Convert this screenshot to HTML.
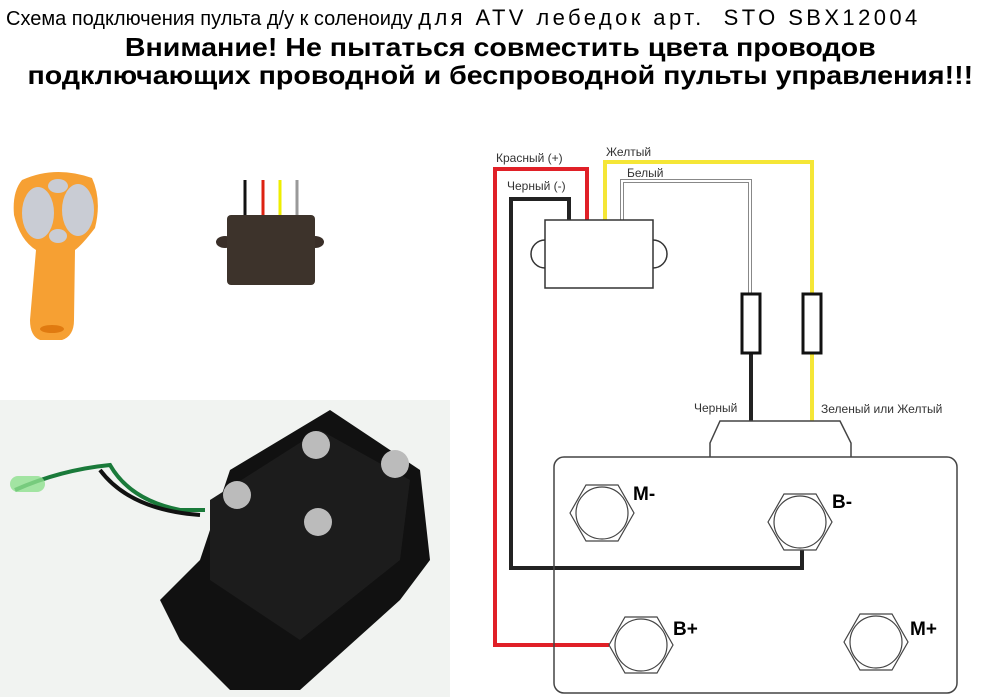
<!DOCTYPE html>
<html><head><meta charset="utf-8"><style>
body{margin:0;width:1000px;height:697px;background:#fff;overflow:hidden;position:relative;font-family:"Liberation Sans",sans-serif}
.t{position:absolute;white-space:nowrap;color:#000}
</style></head><body>
<div class="t" style="left:6px;top:5px;font-size:20px">Схема подключения пульта д/у к соленоиду <span style="font-size:22px;letter-spacing:3.4px">для ATV лебедок арт.&nbsp; STO SBX12004</span></div>
<div class="t" style="left:0;width:1000px;text-align:center;top:33px;font-size:26px;font-weight:bold;line-height:28px;transform:scaleX(1.1);transform-origin:497px 0">Внимание! Не пытаться совместить цвета проводов<br>подключающих проводной и беспроводной пульты управления!!!</div>

<svg width="1000" height="697" style="position:absolute;left:0;top:0" font-family="Liberation Sans, sans-serif">
<g>
<path d="M22 180 Q55 165 92 178 Q102 200 95 228 Q82 245 75 250 L74 320 Q74 336 62 340 L40 340 Q30 336 30 320 L36 250 Q20 240 14 215 Q12 192 22 180Z" fill="#f6a033"/>
<ellipse cx="38" cy="213" rx="16" ry="26" fill="#c9ccd4"/>
<ellipse cx="78" cy="210" rx="16" ry="26" fill="#c9ccd4"/>
<ellipse cx="58" cy="186" rx="10" ry="7" fill="#c9ccd4"/>
<ellipse cx="58" cy="236" rx="9" ry="7" fill="#c9ccd4"/>
<ellipse cx="52" cy="329" rx="12" ry="4" fill="#e07a10"/>
</g>
<g>
<line x1="245" y1="180" x2="245" y2="215" stroke="#111" stroke-width="3"/>
<line x1="263" y1="180" x2="263" y2="215" stroke="#d21" stroke-width="3"/>
<line x1="280" y1="180" x2="280" y2="215" stroke="#ee0" stroke-width="3"/>
<line x1="297" y1="180" x2="297" y2="215" stroke="#999" stroke-width="3"/>
<ellipse cx="225" cy="242" rx="9" ry="6" fill="#3a2f28"/>
<ellipse cx="315" cy="242" rx="9" ry="6" fill="#3a2f28"/>
<rect x="227" y="215" width="88" height="70" rx="4" fill="#3d332b"/>
</g>
<rect x="0" y="400" width="450" height="297" fill="#f1f3f1"/>
<g>
<path d="M160 600 L200 560 L230 470 L330 410 L420 470 L430 560 L400 600 L300 690 L230 690 L180 640Z" fill="#111"/>
<path d="M210 500 L320 430 L410 480 L400 560 L300 640 L210 580Z" fill="#1c1c1c"/>
<circle cx="237" cy="495" r="14" fill="#bbb"/><circle cx="316" cy="445" r="14" fill="#bbb"/>
<circle cx="395" cy="464" r="14" fill="#bbb"/><circle cx="318" cy="522" r="14" fill="#bbb"/>
<path d="M15 490 Q60 470 110 465 Q130 500 180 510 L205 510" stroke="#1a7a3a" stroke-width="4" fill="none"/>
<path d="M100 470 Q130 510 200 515" stroke="#111" stroke-width="4" fill="none"/>
<rect x="10" y="476" width="35" height="16" rx="8" fill="#8fe08f" opacity="0.8"/>
</g>

<g fill="none">
<polyline points="609,645 495,645 495,169 587,169 587,220" stroke="#e02027" stroke-width="4"/>
<polyline points="802,550 802,568 511,568 511,199 569,199 569,220" stroke="#222" stroke-width="4"/>
<polyline points="605,220 605,162 812,162 812,293" stroke="#f5e636" stroke-width="4"/>
<polyline points="812,353 812,421" stroke="#f5e636" stroke-width="4"/>
<polyline points="622,220 622,181 750,181 750,293" stroke="#888" stroke-width="4"/>
<polyline points="622,220 622,181 750,181 750,293" stroke="#fff" stroke-width="2"/>
<line x1="751" y1="353" x2="751" y2="421" stroke="#222" stroke-width="4"/>
<rect x="742" y="294" width="18" height="59" stroke="#111" stroke-width="3" fill="#fff"/>
<rect x="803" y="294" width="18" height="59" stroke="#111" stroke-width="3" fill="#fff"/>
<path d="M545 240 A14 14 0 0 0 545 268" stroke="#333" stroke-width="1.5"/>
<path d="M653 240 A14 14 0 0 1 653 268" stroke="#333" stroke-width="1.5"/>
<rect x="545" y="220" width="108" height="68" stroke="#333" stroke-width="1.5" fill="#fff"/>
<path d="M710 457 L710 443 L720 421 L840 421 L851 443 L851 457" stroke="#444" stroke-width="1.5"/>
<rect x="554" y="457" width="403" height="236" rx="10" stroke="#444" stroke-width="1.5"/>
<g stroke="#444" stroke-width="1.2">
<polygon points="570,513 586,485 618,485 634,513 618,541 586,541"/><circle cx="602" cy="513" r="26"/>
<polygon points="768,522 784,494 816,494 832,522 816,550 784,550"/><circle cx="800" cy="522" r="26"/>
<polygon points="609,645 625,617 657,617 673,645 657,673 625,673"/><circle cx="641" cy="645" r="26"/>
<polygon points="844,642 860,614 892,614 908,642 892,670 860,670"/><circle cx="876" cy="642" r="26"/>
</g>
</g>
<g font-size="12" fill="#333">
<text x="496" y="162">Красный (+)</text>
<text x="606" y="156">Желтый</text>
<text x="627" y="177">Белый</text>
<text x="507" y="190">Черный (-)</text>
<text x="694" y="412">Черный</text>
<text x="821" y="413">Зеленый или Желтый</text>
</g>
<g font-size="19" font-weight="bold" fill="#000">
<text x="633" y="500">M-</text>
<text x="832" y="508">B-</text>
<text x="673" y="635">B+</text>
<text x="910" y="635">M+</text>
</g>
</svg>
</body></html>
